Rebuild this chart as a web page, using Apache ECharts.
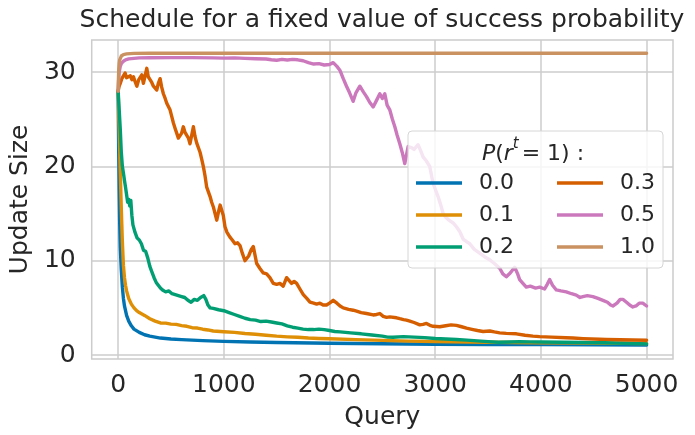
<!DOCTYPE html>
<html>
<head>
<meta charset="utf-8">
<script src="https://cdn.jsdelivr.net/npm/echarts@6/dist/echarts.min.js"></script>
<style>html,body{margin:0;padding:0;background:#fff;}#c{width:695px;height:435px;}</style>
</head>
<body>
<div id="c"></div>
<script>
const titleText = 'Schedule for a fixed value of success probability';
const xName = 'Query';
const yName = 'Update Size';
const xTicks = [0, 1000, 2000, 3000, 4000, 5000];
const yTicks = [0, 10, 20, 30];
const seriesNames = ['0.0', '0.1', '0.2', '0.3', '0.5', '1.0'];
const colors = ['#0173b2', '#de8f05', '#029e73', '#d55e00', '#cc78bc', '#ca9161'];

const p00 = [[0,28],[5,22],[10,17.5],[15,14],[20,11.5],[30,9],[40,7.2],[50,6],[60,5.2],[80,4.2],[100,3.6],[125,3.1],[150,2.75],[200,2.4],[250,2.15],[300,2.0],[400,1.8],[500,1.7],[600,1.63],[800,1.53],[1000,1.45],[1250,1.38],[1500,1.33],[2000,1.25],[2500,1.19],[3000,1.15],[3500,1.12],[4000,1.1],[4500,1.08],[5000,1.06]];

const p01 = [[0,28],[10,24],[20,19.5],[30,15.5],[40,12],[50,9.5],[60,8.2],[70,7.4],[80,6.8],[100,6.0],[125,5.4],[150,5.0],[175,4.7],[200,4.5],[250,4.2],[300,3.85],[350,3.6],[400,3.4],[450,3.38],[500,3.28],[550,3.25],[600,3.12],[650,3.05],[700,2.9],[750,2.86],[800,2.74],[850,2.66],[900,2.55],[1000,2.47],[1100,2.4],[1200,2.28],[1300,2.2],[1400,2.1],[1500,2.0],[1600,1.93],[1700,1.88],[1800,1.8],[1900,1.76],[2000,1.72],[2250,1.63],[2500,1.55],[2750,1.48],[3000,1.43],[3500,1.36],[4000,1.3],[4500,1.26],[5000,1.22]];

const p02 = [[0,28],[10,26],[20,24],[30,21.5],[40,20],[50,19.3],[60,18.5],[70,17.8],[80,17],[90,16.2],[100,16.5],[110,15.8],[120,16.4],[130,14.8],[140,13.8],[160,13],[180,12.4],[200,12.2],[220,11.8],[240,11.1],[260,11.0],[280,10.3],[300,9.4],[320,8.8],[340,8.2],[360,7.7],[380,7.4],[400,7.1],[420,6.9],[450,6.7],[480,6.8],[510,6.5],[540,6.4],[570,6.3],[600,6.2],[630,6.1],[660,5.8],[690,5.6],[720,5.9],[750,5.8],[780,6.1],[810,6.3],[830,5.9],[850,5.3],[870,5.0],[900,4.95],[950,4.8],[1000,4.7],[1050,4.5],[1100,4.3],[1150,4.1],[1200,3.9],[1250,3.75],[1300,3.7],[1350,3.55],[1400,3.6],[1450,3.5],[1500,3.4],[1550,3.3],[1600,3.1],[1650,2.95],[1700,2.85],[1750,2.75],[1800,2.7],[1850,2.7],[1900,2.75],[1950,2.7],[2000,2.6],[2050,2.5],[2100,2.45],[2200,2.35],[2300,2.25],[2400,2.12],[2500,2.0],[2550,1.9],[2600,1.88],[2700,1.95],[2800,1.9],[2900,1.85],[3000,1.75],[3100,1.7],[3200,1.65],[3300,1.58],[3400,1.5],[3500,1.42],[3600,1.36],[3700,1.38],[3800,1.42],[3900,1.4],[4000,1.38],[4200,1.35],[4400,1.33],[4600,1.31],[4800,1.25],[5000,1.18]];

const p03 = [[0,28],[10,28.5],[20,28.8],[35,29.3],[50,29.6],[66,29.9],[80,29.4],[97,29.2],[115,29.6],[130,29.2],[145,29.5],[160,29.0],[177,28.5],[195,29.2],[210,29.0],[224,29.7],[239,28.8],[255,29.6],[271,30.4],[285,29.5],[302,29.2],[318,28.9],[334,28.5],[350,28.6],[366,28.1],[380,28.8],[397,29.3],[412,28.4],[428,27.7],[445,27.2],[460,26.7],[475,26.5],[491,26.0],[507,25.3],[523,24.6],[540,24.0],[555,23.5],[570,23.0],[586,22.8],[600,23.5],[617,24.2],[633,23.6],[649,23.8],[665,23.0],[680,22.4],[696,23.3],[712,24.2],[727,23.2],[743,22.5],[759,22.4],[775,21.5],[790,20.8],[806,20.0],[822,19.0],[838,17.8],[854,17.3],[870,16.8],[885,16.2],[901,15.7],[917,15.0],[933,14.3],[950,15.2],[965,15.9],[980,16.1],[995,14.8],[1011,13.6],[1030,13.0],[1058,12.5],[1080,12.2],[1106,11.8],[1130,11.9],[1153,11.6],[1175,10.8],[1200,10.0],[1216,9.8],[1235,10.5],[1260,11.2],[1279,11.5],[1295,10.6],[1311,9.7],[1340,9.2],[1373,8.7],[1405,8.6],[1436,8.2],[1468,7.6],[1500,7.5],[1531,7.6],[1562,7.3],[1594,8.2],[1609,8.1],[1641,7.6],[1665,7.8],[1689,7.6],[1720,7.0],[1752,6.4],[1785,6.0],[1815,5.6],[1850,5.5],[1878,5.4],[1909,5.5],[1940,5.3],[1972,5.3],[2000,5.5],[2035,5.8],[2070,5.5],[2100,5.2],[2130,5.0],[2180,4.85],[2224,4.75],[2256,4.65],[2300,4.5],[2350,4.4],[2413,4.25],[2445,4.3],[2476,4.4],[2508,4.1],[2540,4.0],[2570,4.05],[2634,3.95],[2665,3.85],[2700,3.75],[2728,3.7],[2760,3.6],[2800,3.45],[2854,3.2],[2885,3.25],[2917,3.35],[2950,3.15],[2980,3.05],[3043,3.0],[3100,3.1],[3150,3.2],[3201,3.15],[3250,3.0],[3296,2.85],[3358,2.7],[3400,2.6],[3453,2.5],[3516,2.55],[3560,2.45],[3610,2.35],[3673,2.3],[3768,2.25],[3850,2.1],[3925,2.0],[3988,1.95],[4100,1.9],[4240,1.84],[4303,1.8],[4400,1.74],[4555,1.68],[4618,1.66],[4750,1.62],[4870,1.59],[5000,1.56]];

const p05 = [[0,28],[5,29.2],[10,30.0],[20,30.6],[30,30.9],[50,31.15],[70,31.3],[100,31.4],[150,31.45],[200,31.5],[300,31.52],[500,31.53],[700,31.53],[900,31.5],[1000,31.48],[1100,31.5],[1200,31.45],[1300,31.42],[1400,31.38],[1450,31.3],[1500,31.25],[1550,31.35],[1600,31.28],[1650,31.35],[1700,31.3],[1750,31.2],[1800,31.0],[1850,30.85],[1900,30.9],[1950,30.75],[2000,30.8],[2035,31.0],[2070,30.6],[2098,30.2],[2130,29.3],[2161,28.5],[2190,27.8],[2224,26.9],[2250,27.8],[2287,28.5],[2320,27.9],[2350,27.4],[2380,26.8],[2413,26.3],[2445,27.0],[2476,27.7],[2500,27.2],[2523,27.7],[2545,26.5],[2570,26.0],[2595,25.0],[2618,24.2],[2640,23.3],[2665,22.4],[2690,21.4],[2712,20.3],[2744,22.1],[2775,22.0],[2800,21.8],[2838,22.3],[2865,21.6],[2885,21.0],[2915,20.6],[2948,20.0],[2980,18.2],[3000,17.6],[3027,16.8],[3050,16.0],[3075,15.0],[3100,14.6],[3130,14.3],[3170,14.0],[3201,13.6],[3232,13.1],[3264,12.3],[3300,12.0],[3327,11.8],[3370,11.2],[3421,10.8],[3470,10.4],[3516,10.1],[3560,9.7],[3610,9.2],[3640,8.6],[3673,8.3],[3710,8.7],[3752,9.3],[3780,8.6],[3799,8.0],[3830,7.6],[3862,7.2],[3900,7.3],[3950,7.1],[3988,7.2],[4035,7.0],[4060,7.5],[4083,8.0],[4110,7.4],[4146,6.9],[4190,6.8],[4240,6.7],[4290,6.5],[4335,6.36],[4370,6.1],[4397,6.2],[4440,6.3],[4492,6.2],[4540,6.0],[4587,5.8],[4630,5.6],[4660,5.3],[4681,5.2],[4720,5.5],[4750,5.9],[4776,5.9],[4810,5.6],[4840,5.3],[4870,5.1],[4900,5.2],[4930,5.5],[4964,5.5],[5000,5.2]];

const p10 = [[0,28],[3,29.3],[6,30.3],[10,30.9],[15,31.3],[20,31.5],[30,31.7],[50,31.85],[80,31.93],[150,31.98],[300,32],[5000,32]];

const seriesData = [p00, p01, p02, p03, p05, p10];

const FONT = 'DejaVu Sans';
const TXT = '#262626';
const GRIDC = '#cccccc';

const chart = echarts.init(document.getElementById('c'), null, {renderer: 'canvas'});

const legendText = {fontSize: 22, lineHeight: 22, color: TXT, fontFamily: FONT, width: 40, padding: [0, 0, 0, 12]};

chart.setOption({
  backgroundColor: '#ffffff',
  animation: false,
  color: colors,
  title: {
    text: titleText, left: 382, top: 8, textAlign: 'center', padding: 0,
    textStyle: {fontSize: 25, fontWeight: 'normal', color: TXT, fontFamily: FONT}
  },
  grid: {left: 91, right: 22, top: 40, bottom: 76, show: true, borderColor: GRIDC, borderWidth: 1.5, backgroundColor: '#ffffff'},
  xAxis: {
    type: 'value', min: -250, max: 5250,
    name: xName, nameLocation: 'middle', nameGap: 46,
    nameTextStyle: {fontSize: 25, color: TXT, fontFamily: FONT},
    axisLine: {show: false},
    axisTick: {show: false, customValues: xTicks},
    axisLabel: {customValues: xTicks, formatter: v => String(v), fontSize: 25, color: TXT, fontFamily: FONT, margin: 14},
    splitLine: {show: true, lineStyle: {color: GRIDC, width: 1.5}}
  },
  yAxis: {
    type: 'value', min: -0.42, max: 33.4,
    name: yName, nameLocation: 'middle', nameGap: 56,
    nameTextStyle: {fontSize: 25, color: TXT, fontFamily: FONT},
    axisLine: {show: false},
    axisTick: {show: false, customValues: yTicks},
    axisLabel: {customValues: yTicks, formatter: v => String(v), fontSize: 25, color: TXT, fontFamily: FONT, margin: 16},
    splitLine: {show: true, lineStyle: {color: GRIDC, width: 1.5}}
  },
  legend: [
    {data: seriesNames.slice(0, 3), orient: 'vertical', left: 408, top: 131,
     padding: [41, 144, 10, 8], backgroundColor: 'rgba(255,255,255,0.8)', borderColor: '#d6d6d6', borderWidth: 1, borderRadius: 4,
     itemWidth: 46, itemHeight: 3.5, itemGap: 10, icon: 'rect', z: 20, textStyle: legendText},
    {data: seriesNames.slice(3), orient: 'vertical', left: 557, top: 172, padding: 0,
     itemWidth: 46, itemHeight: 3.5, itemGap: 10, icon: 'rect', z: 21, textStyle: legendText}
  ],
  graphic: [
    {type: 'text', z: 100, x: 533, y: 137,
     style: {
       text: '{i|P}{n|(}{i|r}{s|t}{n|= 1) :}',
       align: 'center',
       rich: {
         i: {fontSize: 22, fontStyle: 'italic', fontFamily: FONT, fill: TXT, lineHeight: 28, verticalAlign: 'bottom'},
         n: {fontSize: 22, fontFamily: FONT, fill: TXT, lineHeight: 28, verticalAlign: 'bottom'},
         s: {fontSize: 15, fontStyle: 'italic', fontFamily: FONT, fill: TXT, lineHeight: 28, verticalAlign: 'top', padding: [0, 3, 0, 0]}
       }
     }}
  ],
  series: seriesNames.map((nm, i) => ({
    name: nm, type: 'line', data: seriesData[i], showSymbol: false, symbol: 'none',
    sampling: 'none', smooth: false, clip: true,
    lineStyle: {width: 3.4, color: colors[i], cap: 'round', join: 'round'},
    itemStyle: {color: colors[i]}
  }))
});
</script>
</body>
</html>
